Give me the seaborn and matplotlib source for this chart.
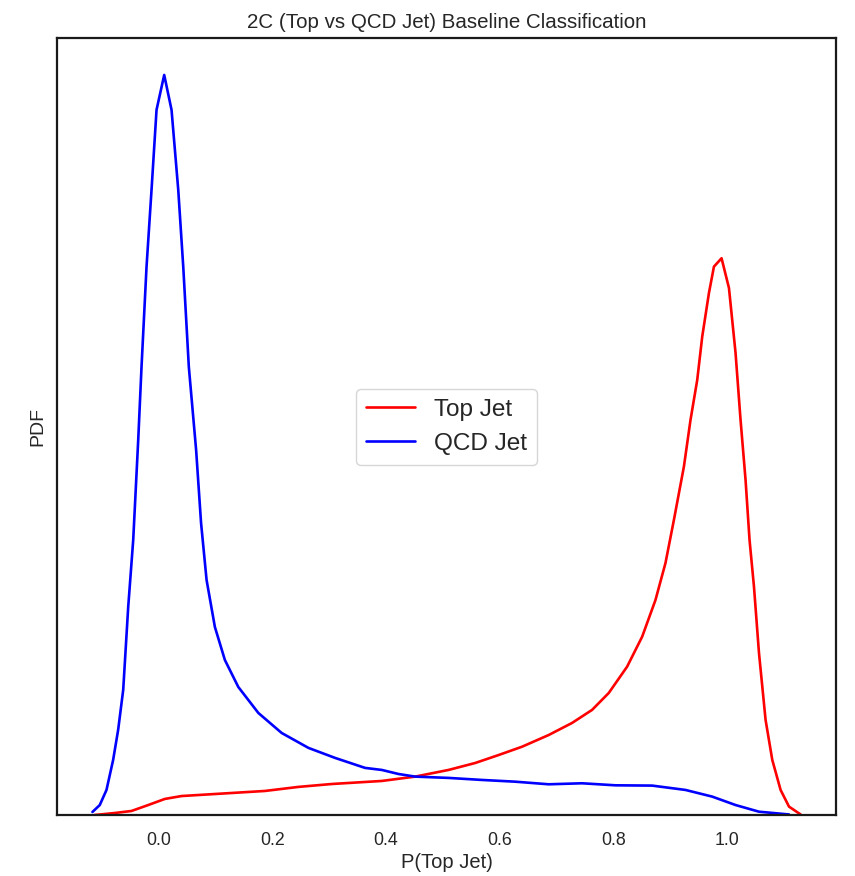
import matplotlib
matplotlib.use("Agg")
import matplotlib.pyplot as plt
import seaborn as sns
import pandas as pd

# Density estimates of the classifier output P(Top Jet) for each jet class
top_x = [-0.1127, -0.0769, -0.0475, -0.0181, 0.0111, 0.0405, 0.0991, 0.1871,
         0.2460, 0.3046, 0.3632, 0.3926, 0.4512, 0.5100, 0.5569, 0.5981,
         0.6391, 0.6861, 0.7271, 0.7623, 0.7917, 0.8239, 0.8504, 0.8738,
         0.8914, 0.9062, 0.9238, 0.9354, 0.9472, 0.9560, 0.9678, 0.9766,
         0.9900, 1.0030, 1.0146, 1.0234, 1.0322, 1.0392, 1.0470, 1.0558,
         1.0674, 1.0792, 1.0938, 1.1086, 1.1290]
top_pdf = [0.003, 0.017, 0.031, 0.072, 0.114, 0.134, 0.148, 0.169,
           0.197, 0.217, 0.231, 0.238, 0.268, 0.314, 0.362, 0.417,
           0.474, 0.555, 0.638, 0.728, 0.845, 1.026, 1.233, 1.486,
           1.741, 2.038, 2.406, 2.728, 3.003, 3.302, 3.603, 3.785,
           3.843, 3.638, 3.190, 2.728, 2.314, 1.900, 1.578, 1.121,
           0.659, 0.383, 0.176, 0.061, 0.007]

qcd_x = [-0.1162, -0.1033, -0.0915, -0.0798, -0.0710, -0.0621, -0.0533, -0.0445,
         -0.0357, -0.0299, -0.0211, -0.0123, -0.0035, 0.0100, 0.0229, 0.0347,
         0.0435, 0.0533, 0.0661, 0.0748, 0.0845, 0.0991, 0.1167, 0.1403,
         0.1755, 0.2165, 0.2636, 0.3104, 0.3632, 0.3926, 0.4220, 0.4512,
         0.5100, 0.5687, 0.6273, 0.6861, 0.7447, 0.8033, 0.8680, 0.9266,
         0.9736, 1.0146, 1.0558, 1.1086]
qcd_pdf = [0.024, 0.072, 0.176, 0.383, 0.590, 0.866, 1.438, 1.900,
           2.590, 3.093, 3.783, 4.314, 4.866, 5.107, 4.866, 4.314,
           3.783, 3.093, 2.521, 2.017, 1.624, 1.300, 1.072, 0.886,
           0.707, 0.569, 0.466, 0.397, 0.328, 0.314, 0.286, 0.268,
           0.259, 0.245, 0.233, 0.215, 0.222, 0.208, 0.206, 0.176,
           0.130, 0.072, 0.026, 0.007]

series_labels = ["Top Jet", "QCD Jet"]
series_colors = ["red", "blue"]

sns.set_style("white")
plt.rcParams["font.family"] = ["Liberation Sans", "DejaVu Sans"]
plt.rcParams["text.color"] = "0.15"
plt.rcParams["axes.labelcolor"] = "0.15"
plt.rcParams["xtick.color"] = "0.15"

fig = plt.figure(figsize=(8.55, 8.76), dpi=100)
ax = fig.add_axes([0.0667, 0.0691, 0.9111, 0.8876])

for xs, ys, lab, col in zip([top_x, qcd_x], [top_pdf, qcd_pdf],
                            series_labels, series_colors):
    df = pd.DataFrame({"x": xs, "pdf": ys})
    sns.lineplot(data=df, x="x", y="pdf", color=col, label=lab,
                 sort=False, linewidth=1.9, ax=ax)

peak = max(max(top_pdf), max(qcd_pdf))
ax.set_ylim(0, peak * 1.05)
ax.set_yticks([])
ax.set_xticks([0.0, 0.2, 0.4, 0.6, 0.8, 1.0])
ax.tick_params(axis="x", labelsize=12.8, length=0, pad=12)

for sp in ax.spines.values():
    sp.set_color("0.1")
    sp.set_linewidth(1.6)

ax.set_xlabel("P(Top Jet)", fontsize=14.5, labelpad=3)
ax.set_ylabel("PDF", fontsize=14, labelpad=8)
ax.set_title("2C (Top vs QCD Jet) Baseline Classification", fontsize=14.8, pad=7)

ax.legend(loc="center", fontsize=17.6, frameon=True, handlelength=2.0)

fig.savefig("out.png", dpi=100)
